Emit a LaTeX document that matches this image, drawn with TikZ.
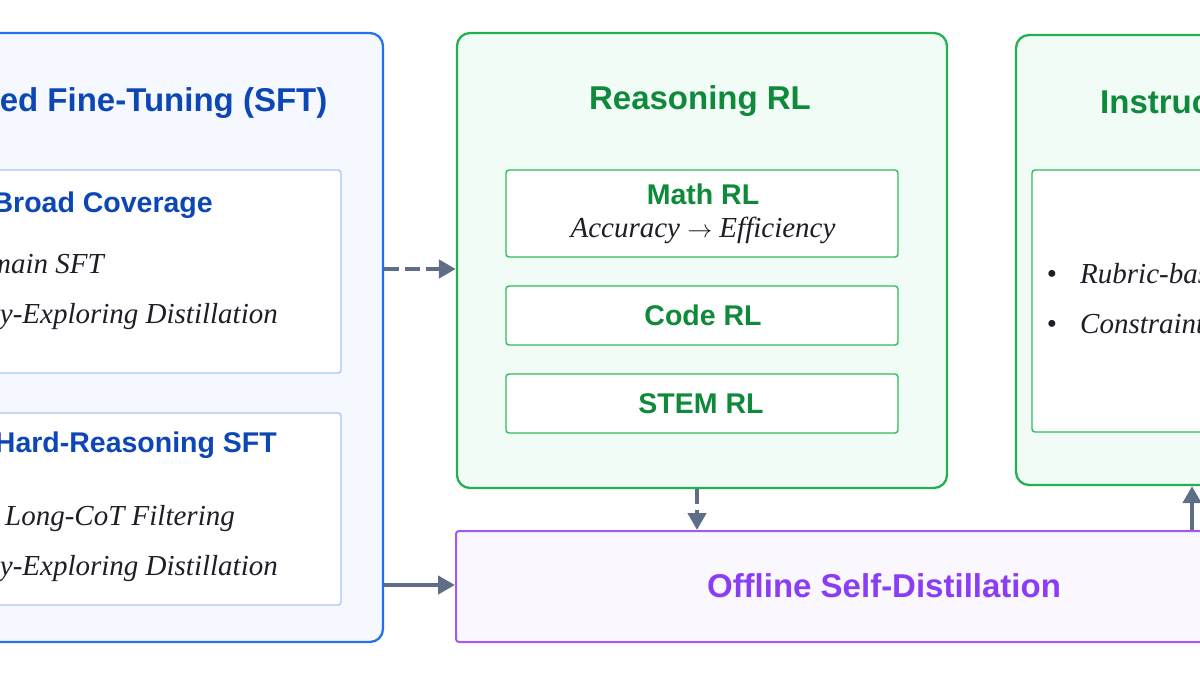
\documentclass[tikz,border=0pt]{standalone}
\usepackage{fontspec}
\setmainfont{Liberation Serif}
\setsansfont{Liberation Sans}
\usetikzlibrary{arrows.meta}
\definecolor{sftborder}{HTML}{2570EE}
\definecolor{sftfill}{HTML}{F5F9FF}
\definecolor{sfttext}{HTML}{0D47B5}
\definecolor{sftinner}{HTML}{A9C6F6}
\definecolor{rlborder}{HTML}{1FB24F}
\definecolor{rlfill}{HTML}{F2FCF6}
\definecolor{rltext}{HTML}{0E8A3A}
\definecolor{rlinner}{HTML}{2CBD5C}
\definecolor{osdborder}{HTML}{A558F5}
\definecolor{osdfill}{HTML}{FAF7FF}
\definecolor{osdtext}{HTML}{8B3DF5}
\definecolor{arrowc}{HTML}{5E6E87}
\definecolor{bodytext}{HTML}{1E1E28}
\tikzset{
  outerbox/.style={draw, line width=2.3pt, rounded corners=13pt, inner sep=0pt},
  innerbox/.style={draw, line width=1.4pt, rounded corners=3pt, fill=white, inner sep=0pt},
  headbig/.style={font=\sffamily\bfseries\fontsize{33}{38}\selectfont, inner sep=0pt},
  headsmall/.style={font=\sffamily\bfseries\fontsize{28.5}{33}\selectfont, inner sep=0pt},
  itline/.style={font=\itshape\fontsize{29}{33}\selectfont, text=bodytext, inner sep=0pt},
  flowarrow/.style={draw=arrowc, line width=4.8pt, -{Triangle[length=17pt 0 0,width=18pt 0 0]}},
  dashedflow/.style={flowarrow, dash pattern=on 15pt off 6pt}
}
\begin{document}
\begin{tikzpicture}[x=1pt,y=-1pt]
\useasboundingbox (0,0) rectangle (1200,675);
\clip (0,0) rectangle (1200,675);

% ---------- SFT column ----------
\node[outerbox, draw=sftborder, fill=sftfill, minimum width=423pt, minimum height=609pt] (sft) at (171.5,337.5) {};
\node[headbig, text=sfttext, anchor=base east] (sfttitle) at (327.5,111) {ed Fine-Tuning (SFT)};
\node[innerbox, draw=sftinner, minimum width=381pt, minimum height=203pt] (broad) at (150.5,271.5) {};
\node[headsmall, text=sfttext, anchor=base east] (broadt) at (213,212) {Broad Coverage};
\node[itline, anchor=base east] (broad1) at (104,273) {main SFT};
\node[itline, anchor=base east] (broad2) at (278,323) {y-Exploring Distillation};
\node[innerbox, draw=sftinner, minimum width=381pt, minimum height=192pt] (hard) at (150.5,509) {};
\node[headsmall, text=sfttext, anchor=base east] (hardt) at (277,452) {Hard-Reasoning SFT};
\node[itline, anchor=base west] (hard1) at (5,525) {Long-CoT Filtering};
\node[itline, anchor=base east] (hard2) at (278,575) {y-Exploring Distillation};

% ---------- Reasoning RL ----------
\node[outerbox, draw=rlborder, fill=rlfill, minimum width=490pt, minimum height=455pt] (rl) at (702,260.5) {};
\node[headbig, text=rltext, anchor=base] (rltitle) at (700,109) {Reasoning RL};
\node[innerbox, draw=rlinner, minimum width=392pt, minimum height=87pt] (math) at (702,213.5) {};
\node[headsmall, text=rltext, anchor=base] (matht) at (703,204) {Math RL};
\node[itline, anchor=base] (mathsub) at (703,237) {Accuracy {\fontsize{33}{33}\selectfont$\rightarrow$} Efficiency};
\node[innerbox, draw=rlinner, minimum width=392pt, minimum height=59pt] (code) at (702,315.5) {};
\node[headsmall, text=rltext, anchor=base] (codet) at (703,325.5) {Code RL};
\node[innerbox, draw=rlinner, minimum width=392pt, minimum height=59pt] (stem) at (702,403.5) {};
\node[headsmall, text=rltext, anchor=base] (stemt) at (701,413) {STEM RL};

% ---------- Instruction column ----------
\node[outerbox, draw=rlborder, fill=rlfill, minimum width=490pt, minimum height=450pt] (ins) at (1261,260) {};
\node[headbig, text=rltext, anchor=base west] (institle) at (1100,113) {Instruc};
\node[innerbox, draw=rlinner, minimum width=458pt, minimum height=262pt] (insin) at (1261,301) {};
\node[itline, anchor=base] (bul1) at (1052,283) {\textup{•}};
\node[itline, anchor=base west] (ins1) at (1080,283) {Rubric-bas};
\node[itline, anchor=base] (bul2) at (1052,333) {\textup{•}};
\node[itline, anchor=base west] (ins2) at (1080,333) {Constraint};

% ---------- Offline Self-Distillation ----------
\node[draw=osdborder, fill=osdfill, line width=2pt, rounded corners=3pt, minimum width=856pt, minimum height=111pt, inner sep=0pt] (osd) at (884,586.5) {};
\node[headbig, text=osdtext, anchor=base] (osdt) at (884,597) {Offline Self-Distillation};

% ---------- connectors ----------
\coordinate (ya) at (0,269);
\coordinate (yb) at (0,585);
\coordinate (xc) at (697,0);
\coordinate (xd) at (1192,0);
\draw[dashedflow] (ya -| sft.east) -- (ya -| rl.west);
\draw[flowarrow] (yb -| sft.east) -- (yb -| osd.west);
\draw[dashedflow] (xc |- rl.south) -- (xc |- osd.north);
\draw[flowarrow] (xd |- osd.north) -- (xd |- ins.south);
\end{tikzpicture}
\end{document}
